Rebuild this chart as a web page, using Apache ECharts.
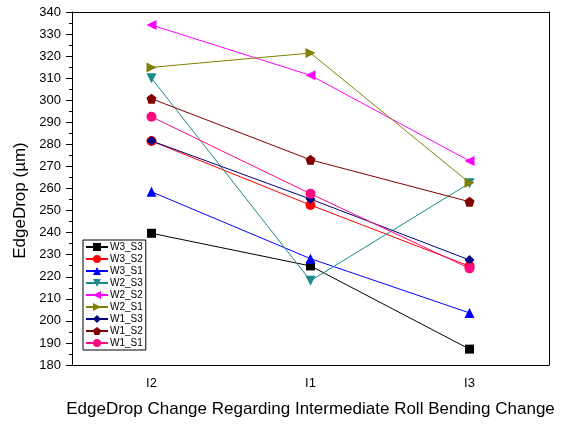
<!DOCTYPE html>
<html><head><meta charset="utf-8">
<script src="https://cdn.jsdelivr.net/npm/echarts@6/dist/echarts.min.js"></script>
<style>html,body{margin:0;padding:0;background:#fff}#c{width:561px;height:425px}</style>
</head><body><div id="c"></div>
<script>
var categories = ['I2', 'I1', 'I3'];
var seriesNames = ['W3_S3', 'W3_S2', 'W3_S1', 'W2_S3', 'W2_S2', 'W2_S1', 'W1_S3', 'W1_S2', 'W1_S1'];
var W3_S3 = [239.7, 224.9, 187.2];
var W3_S2 = [281.5, 252.5, 224.8];
var W3_S1 = [258.5, 228.2, 203.6];
var W2_S3 = [310.0, 218.2, 262.4];
var W2_S2 = [334.1, 311.3, 272.5];
var W2_S1 = [314.9, 321.4, 262.6];
var W1_S3 = [281.6, 255.2, 227.6];
var W1_S2 = [300.7, 273.0, 254.0];
var W1_S1 = [292.5, 257.6, 223.8];
var yTicks = {min: 180, max: 340, interval: 10};

var values = [W3_S3, W3_S2, W3_S1, W2_S3, W2_S2, W2_S1, W1_S3, W1_S2, W1_S1];
var colors = ['#000000', '#ff0000', '#0000ff', '#1a8a8a', '#ff00ff', '#808000', '#000080', '#800000', '#ff0a80'];
var pent = 'path://M0,-1 L0.951,-0.309 L0.588,0.809 L-0.588,0.809 L-0.951,-0.309 Z';
var symbols = ['rect', 'circle', 'triangle', 'triangle', 'triangle', 'triangle', 'diamond', pent, 'circle'];
var rot = [0, 0, 0, 180, 90, -90, 0, 0, 0];
var sizes = [9, 10, 10, 10, 10, 10, 10, 10, 10];

var font = 'Liberation Sans, Arial, sans-serif';
var chart = echarts.init(document.getElementById('c'), null, {renderer: 'canvas'});
var series = seriesNames.map(function (n, i) {
  return {
    name: n, type: 'line', xAxisIndex: 0, yAxisIndex: 0,
    data: values[i], symbol: symbols[i], symbolRotate: rot[i], symbolSize: sizes[i],
    lineStyle: {color: colors[i], width: 1}, itemStyle: {color: colors[i]},
    emphasis: {disabled: true}, animation: false
  };
});
chart.setOption({
  animation: false,
  grid: {left: 72, right: 12, top: 12, bottom: 60},
  legend: {
    orient: 'vertical', left: 83, top: 240, data: seriesNames,
    itemWidth: 22, itemHeight: 10, itemGap: 2, padding: [2, 3, 2, 2],
    borderColor: '#000', borderWidth: 1, backgroundColor: '#fff',
    textStyle: {fontFamily: font, fontSize: 10, color: '#000', padding: [0, 0, 0, -3]}
  },
  xAxis: [
    {type: 'category', data: categories, position: 'bottom', offset: 0, boundaryGap: true,
     axisLine: {lineStyle: {color: '#000', width: 1}},
     axisTick: {alignWithLabel: true, length: 7, lineStyle: {color: '#000'}},
     axisLabel: {color: '#000', fontFamily: font, fontSize: 13, margin: 12},
     name: 'EdgeDrop Change Regarding Intermediate Roll Bending Change', nameLocation: 'middle', nameGap: 36,
     nameTextStyle: {fontFamily: font, fontSize: 17, color: '#000'}},
    {type: 'category', data: categories, position: 'bottom', offset: 0, boundaryGap: true,
     axisLine: {show: false}, axisTick: {length: 3, lineStyle: {color: '#000'}}, axisLabel: {show: false}},
    {type: 'category', data: categories, position: 'top', offset: 0, boundaryGap: true,
     axisLine: {lineStyle: {color: '#000', width: 1}},
     axisTick: {alignWithLabel: true, inside: true, length: 4, lineStyle: {color: '#000'}}, axisLabel: {show: false}}
  ],
  yAxis: [
    {type: 'value', min: yTicks.min, max: yTicks.max, interval: yTicks.interval, position: 'left',
     axisLine: {show: true, lineStyle: {color: '#000', width: 1}},
     axisTick: {show: true, length: 6, lineStyle: {color: '#000'}},
     minorTick: {show: true, splitNumber: 2, length: 3, lineStyle: {color: '#000'}},
     splitLine: {show: false},
     axisLabel: {color: '#000', fontFamily: font, fontSize: 13, margin: 11},
     name: 'EdgeDrop (µm)', nameLocation: 'middle', nameGap: 43,
     nameTextStyle: {fontFamily: font, fontSize: 17, color: '#000', padding: [0, 24, 0, 0]}},
    {type: 'value', min: yTicks.min, max: yTicks.max, interval: yTicks.interval, position: 'right',
     axisLine: {show: true, lineStyle: {color: '#000', width: 1}},
     axisTick: {show: false}, axisLabel: {show: false}, splitLine: {show: false}}
  ],
  series: series
});
</script></body></html>
